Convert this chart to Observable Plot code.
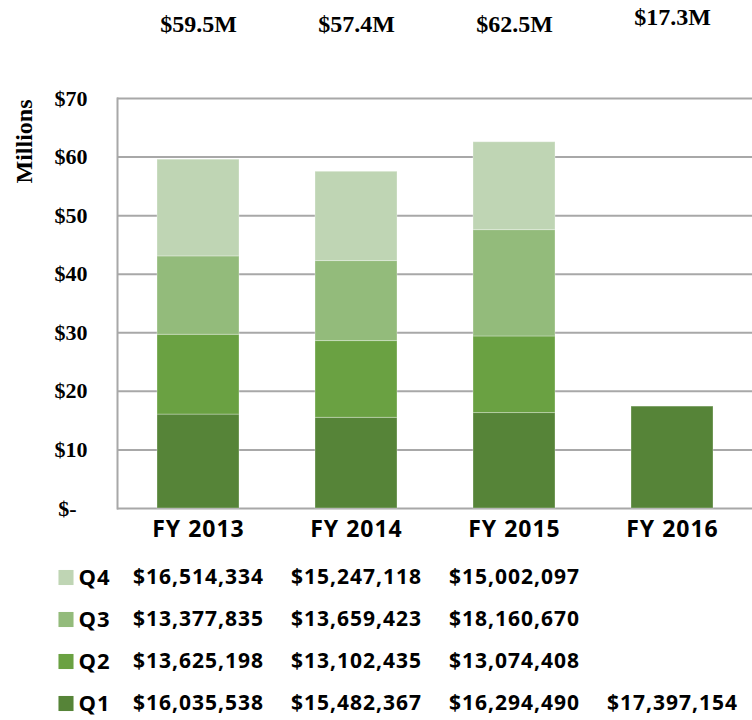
<!DOCTYPE html>
<html>
<head>
<meta charset="utf-8">
<script src="https://cdn.jsdelivr.net/npm/d3@7"></script>
<script src="https://cdn.jsdelivr.net/npm/@observablehq/plot@0.6"></script>
<style>
  html, body { margin: 0; padding: 0; background: #fff; }
  #chart svg { display: block; }
  .main g[aria-label="x-axis tick label"] text { letter-spacing: 1px; }
  .tbl text { letter-spacing: 1px; }
</style>
</head>
<body>
<div id="chart"></div>
<script>
const years = ["FY 2013", "FY 2014", "FY 2015", "FY 2016"];
const quarters = ["Q1", "Q2", "Q3", "Q4"];
const q1 = [16035538, 15482367, 16294490, 17397154];
const q2 = [13625198, 13102435, 13074408, null];
const q3 = [13377835, 13659423, 18160670, null];
const q4 = [16514334, 15247118, 15002097, null];
const totalLabels = ["$59.5M", "$57.4M", "$62.5M", "$17.3M"];
const yTicks = [0, 10, 20, 30, 40, 50, 60, 70];
const colors = ["#568438", "#6aa142", "#93bb7b", "#bfd5b4"];

const series = {Q1: q1, Q2: q2, Q3: q3, Q4: q4};
const data = [];
for (const q of quarters) {
  years.forEach((y, i) => {
    const v = series[q][i];
    if (v != null) data.push({year: y, quarter: q, value: v, millions: v / 1e6});
  });
}
const totals = years.map((y, i) => ({year: y, label: totalLabels[i]}));

const serif = "'Liberation Serif', 'Times New Roman', serif";
const sans = "'Open Sans', 'Liberation Sans', sans-serif";

const colorOpts = {domain: quarters, range: colors};

const main = Plot.plot({
  className: "main",
  width: 752,
  height: 549,
  marginTop: 98,
  marginBottom: 41,
  marginLeft: 117,
  marginRight: 0,
  x: {domain: years, paddingInner: 0.484, paddingOuter: 0.242, label: null},
  y: {domain: [0, 70], label: null},
  color: colorOpts,
  marks: [
    Plot.ruleY(yTicks, {stroke: "#a8a8a8", strokeWidth: 2}),
    Plot.frame({anchor: "left", stroke: "#a8a8a8", strokeWidth: 2}),
    Plot.barY(data, {
      x: "year", y: "millions", fill: "quarter", order: quarters,
      stroke: "#ffffff", strokeWidth: 1, strokeOpacity: 0.3
    }),
    Plot.axisY({
      ticks: yTicks, tickSize: 0, tickPadding: 30,
      tickFormat: d => d === 0 ? "$-\u00a0\u00a0" : "$" + d,
      fontFamily: serif, fontWeight: "bold", fontSize: 22, fill: "#000", label: null
    }),
    Plot.axisX({
      tickSize: 0, tickPadding: 12,
      fontFamily: sans, fontWeight: "bold", fontSize: 23, fill: "#000", label: null
    }),
    Plot.text(["Millions"], {
      text: d => d, frameAnchor: "top-left", rotate: -90, dx: -93, dy: 43,
      textAnchor: "middle", lineAnchor: "middle",
      fontFamily: serif, fontWeight: "bold", fontSize: 24, fill: "#000"
    }),
    Plot.text(totals, {
      filter: d => d.year !== "FY 2016",
      x: "year", text: "label", frameAnchor: "top", dy: -74,
      textAnchor: "middle", lineAnchor: "middle",
      fontFamily: serif, fontWeight: "bold", fontSize: 24, fill: "#000"
    }),
    Plot.text(totals, {
      filter: d => d.year === "FY 2016",
      x: "year", text: "label", frameAnchor: "top", dy: -81,
      textAnchor: "middle", lineAnchor: "middle",
      fontFamily: serif, fontWeight: "bold", fontSize: 24, fill: "#000"
    })
  ]
});

const fmt = d3.format("$,");
const tbl = Plot.plot({
  className: "tbl",
  width: 752,
  height: 176,
  marginTop: 6,
  marginBottom: 0,
  marginLeft: 117,
  marginRight: 0,
  x: {domain: years, paddingInner: 0.484, paddingOuter: 0.242, axis: null},
  y: {type: "band", domain: ["Q4", "Q3", "Q2", "Q1"], padding: 0, label: null},
  color: colorOpts,
  marks: [
    Plot.axisY({
      tickSize: 0, tickPadding: 7,
      fontFamily: sans, fontWeight: "bold", fontSize: 22, fill: "#000", label: null
    }),
    Plot.dot(quarters, {
      y: d => d, fill: d => d, symbol: "square", r: 8.5,
      frameAnchor: "left", dx: -51.5, stroke: null
    }),
    Plot.text(data, {
      x: "year", y: "quarter", text: d => fmt(d.value),
      fontFamily: sans, fontWeight: "bold", fontSize: 21, fill: "#000"
    })
  ]
});

document.getElementById("chart").append(main, tbl);
</script>
</body>
</html>
